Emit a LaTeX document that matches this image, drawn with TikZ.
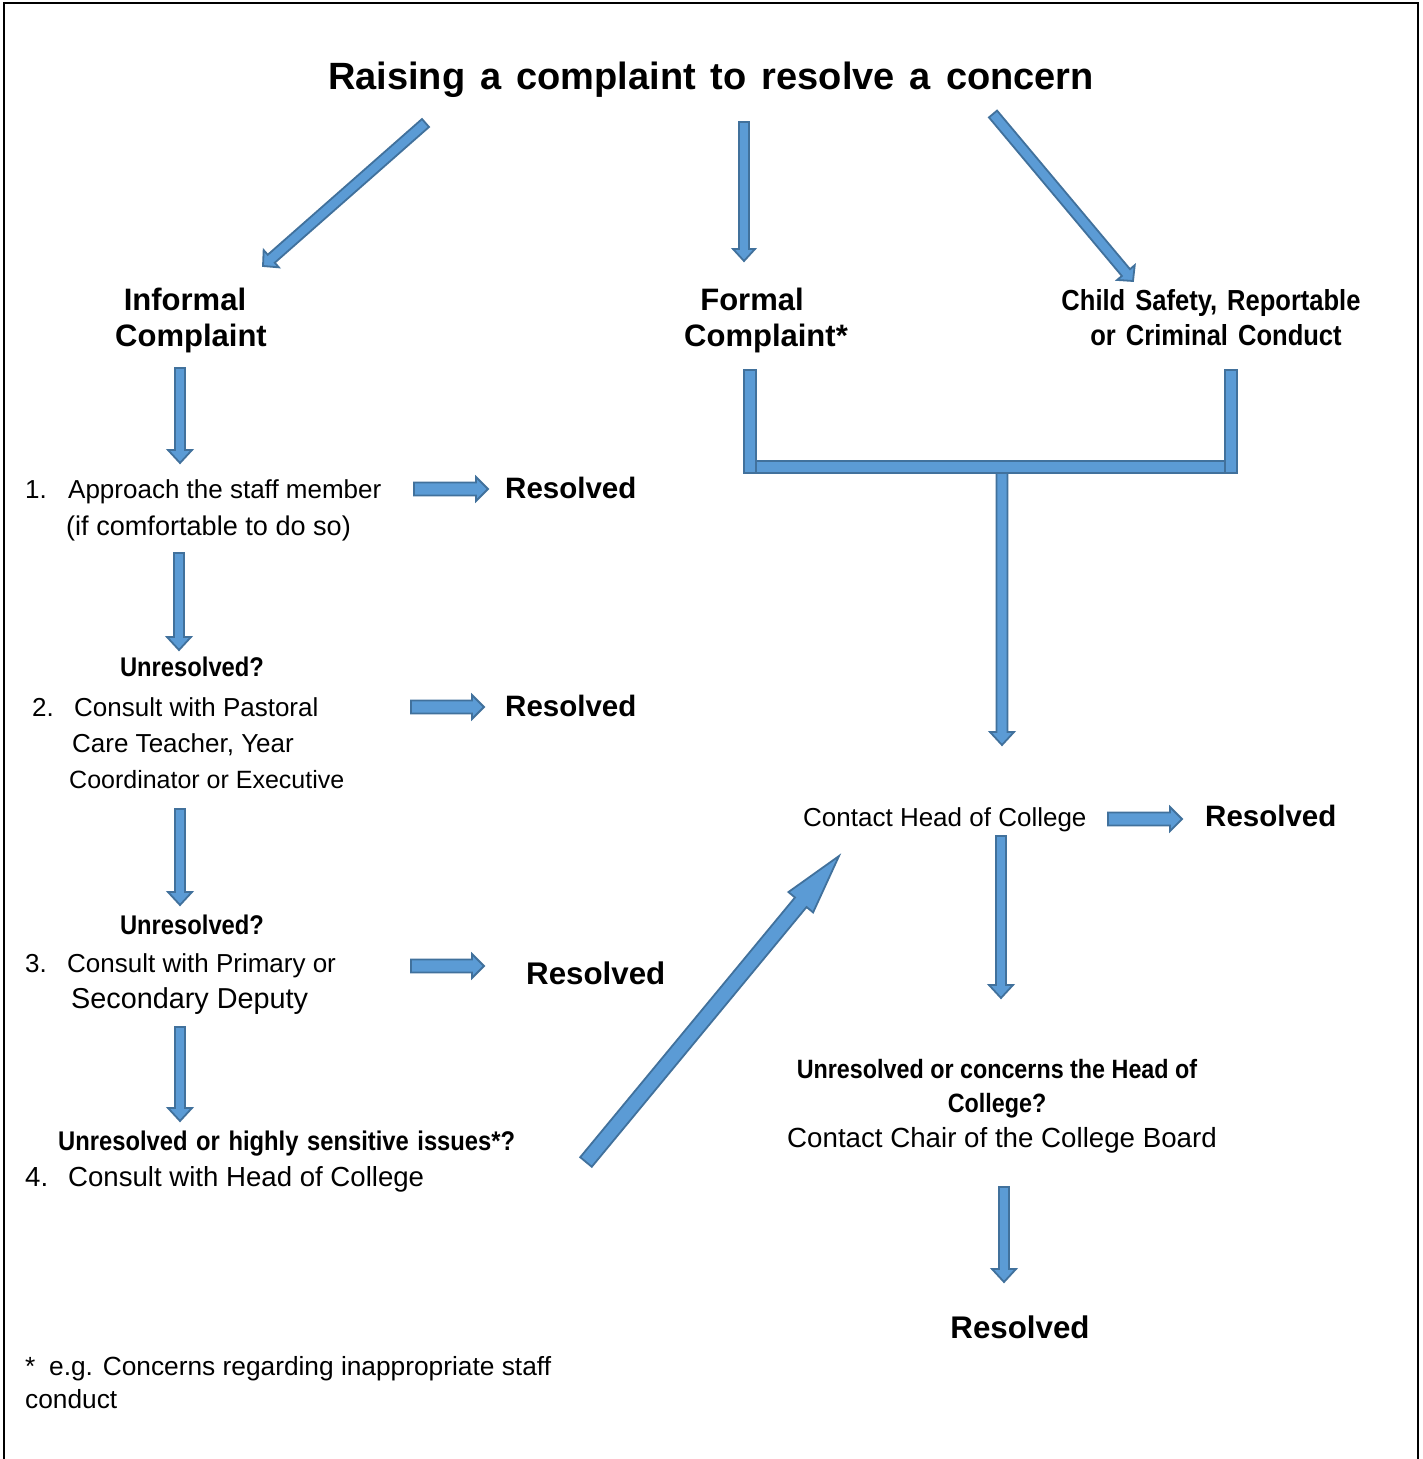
\documentclass[tikz,border=0pt]{standalone}
\usepackage{fontspec}
\setmainfont{Liberation Sans}
\newfontfamily\narrowfont[FakeStretch=0.88]{Liberation Sans}
\newfontfamily\titlefont[WordSpace=1.42]{Liberation Sans}
\usetikzlibrary{calc}
\definecolor{arrowfill}{RGB}{91,155,213}
\definecolor{arrowline}{RGB}{65,113,156}
\newcommand\blockarrow[5]{% from, to, half shaft, half head, head length
  \coordinate (bahd) at ($(#2)!#5!(#1)$);
  \draw[blk] ($(#1)!#3!90:(#2)$) -- ($(bahd)!#3!90:(#2)$) -- ($(bahd)!#4!90:(#2)$) -- (#2)
    -- ($(bahd)!#4!-90:(#2)$) -- ($(bahd)!#3!-90:(#2)$) -- ($(#1)!#3!-90:(#2)$) -- cycle;
}
\begin{document}
\begin{tikzpicture}[x=1pt,y=-1pt,
  blk/.style={fill=arrowfill,draw=arrowline,line width=1.8pt,line join=miter},
  reg/.style={inner sep=0pt,font=\fontsize{26}{31}\selectfont},
  bigb/.style={inner sep=0pt,font=\fontsize{31}{36}\selectfont\bfseries},
  resb/.style={inner sep=0pt,font=\fontsize{29.5}{35}\selectfont\bfseries},
  resbb/.style={inner sep=0pt,font=\fontsize{31.3}{36}\selectfont\bfseries},
  nar/.style={inner sep=0pt,font=\fontsize{27}{32}\narrowfont\bfseries},
  narbig/.style={inner sep=0pt,font=\fontsize{29}{34}\narrowfont\bfseries}]
\useasboundingbox (0,0) rectangle (1423,1459);
\fill[white] (0,0) rectangle (1423,1459);
% border
\draw[black,line width=2.2pt] (4,1470) -- (4,3) -- (1418,3) -- (1418,1470);

% title
\node[inner sep=0pt,anchor=base,font=\fontsize{38}{44}\titlefont\bfseries] (title) at (711,89) {Raising a complaint to resolve a concern};

% headings
\node[bigb,anchor=base] (inf1) at (185,310) {Informal};
\node[bigb,anchor=base] (inf2) at (191,346) {Complaint};
\node[bigb,anchor=base] (for1) at (752,310) {Formal};
\node[bigb,anchor=base] (for2) at (766,346) {Complaint*};
\node[narbig,anchor=base] (cs1) at (1211,310) {Child\hspace{3pt} Safety,\hspace{3pt} Reportable};
\node[narbig,anchor=base] (cs2) at (1216,345) {or\hspace{3pt} Criminal\hspace{3pt} Conduct};

% left column
\node[reg,anchor=base west] (s1a) at (25,498) {\makebox[43pt][l]{1.}Approach the staff member};
\node[reg,anchor=base west,font=\fontsize{27.1}{32}\selectfont] (s1b) at (66,535) {(if comfortable to do so)};
\node[nar,anchor=base] (u1) at (192,676) {Unresolved?};
\node[reg,anchor=base west] (s2a) at (32,716) {\makebox[42pt][l]{2.}Consult with Pastoral};
\node[reg,anchor=base west] (s2b) at (72,752) {Care Teacher, Year};
\node[reg,anchor=base west,font=\fontsize{25}{30}\selectfont] (s2c) at (69,788) {Coordinator or Executive};
\node[nar,anchor=base] (u2) at (192,934) {Unresolved?};
\node[reg,anchor=base west] (s3a) at (25,972) {\makebox[42pt][l]{3.}Consult with Primary or};
\node[reg,anchor=base west,font=\fontsize{28.8}{34}\selectfont] (s3b) at (71,1008) {Secondary Deputy};
\node[nar,anchor=base west] (u3) at (58,1150) {Unresolved\hspace{2pt} or\hspace{2pt} highly\hspace{2pt} sensitive\hspace{2pt} issues*?};
\node[reg,anchor=base west,font=\fontsize{27.6}{33}\selectfont] (s4) at (25,1186) {\makebox[43pt][l]{4.}Consult with Head of College};

% resolved
\node[resb,anchor=base west] (r1) at (505,498) {Resolved};
\node[resb,anchor=base west] (r2) at (505,716) {Resolved};
\node[resbb,anchor=base west] (r3) at (526,984) {Resolved};
\node[resb,anchor=base west] (r4) at (1205,826) {Resolved};
\node[resbb,anchor=base] (r5) at (1020,1338) {Resolved};

% right column
\node[reg,anchor=base west] (head) at (803,826) {Contact Head of College};
\node[nar,anchor=base,font=\fontsize{26.5}{32}\narrowfont\bfseries] (u4a) at (997,1078) {Unresolved or concerns the Head of};
\node[nar,anchor=base,font=\fontsize{26.5}{32}\narrowfont\bfseries] (u4b) at (997,1112) {College?};
\node[reg,anchor=base,font=\fontsize{27.7}{33}\selectfont] (chair) at (1002,1147) {Contact Chair of the College Board};

% footnote
\node[reg,anchor=base west,font=\fontsize{26.3}{31}\selectfont] (fn1) at (25,1375) {\makebox[24pt][l]{*}e.g. Concerns regarding inappropriate staff};
\node[reg,anchor=base west,font=\fontsize{26.3}{31}\selectfont] (fn2) at (25,1408) {conduct};

% arrow coordinates
\coordinate (d1s) at (425.5,123); \coordinate (d1e) at (263,266);
\coordinate (m1s) at (744,122);   \coordinate (m1e) at (744,261);
\coordinate (d2s) at (993,114);   \coordinate (d2e) at (1133,281);
\coordinate (v1s) at (180,368);   \coordinate (v1e) at (180,463);
\coordinate (v2s) at (179,553);   \coordinate (v2e) at (179,650);
\coordinate (v3s) at (180,809);   \coordinate (v3e) at (180,905);
\coordinate (v4s) at (180,1027);  \coordinate (v4e) at (180,1121);
\coordinate (h1s) at (414,489);   \coordinate (h1e) at (488,489);
\coordinate (h2s) at (411,707);   \coordinate (h2e) at (484,707);
\coordinate (h3s) at (411,966);   \coordinate (h3e) at (484,966);
\coordinate (h4s) at (1108,819);  \coordinate (h4e) at (1182,819);
\coordinate (bgs) at (586,1162);  \coordinate (bge) at (839,856);
\coordinate (tst) at (1002,473);  \coordinate (tse) at (1002,745);
\coordinate (v5s) at (1001,836);  \coordinate (v5e) at (1001,998);
\coordinate (v6s) at (1004,1187); \coordinate (v6e) at (1004,1282);

% T bracket
\draw[blk] (744,461) rectangle (1237,473);
\draw[blk] (744,370) rectangle (756,473);
\draw[blk] (1225,370) rectangle (1237,473);

% arrows
\blockarrow{d1s}{d1e}{5.3pt}{11.5pt}{11pt}
\blockarrow{m1s}{m1e}{5pt}{11pt}{12pt}
\blockarrow{d2s}{d2e}{5.3pt}{11.5pt}{11pt}
\blockarrow{v1s}{v1e}{5pt}{12pt}{13pt}
\blockarrow{v2s}{v2e}{5pt}{12pt}{13pt}
\blockarrow{v3s}{v3e}{5pt}{12pt}{13pt}
\blockarrow{v4s}{v4e}{5pt}{12pt}{13pt}
\blockarrow{h1s}{h1e}{6.5pt}{12pt}{12pt}
\blockarrow{h2s}{h2e}{6.5pt}{12pt}{12pt}
\blockarrow{h3s}{h3e}{6.5pt}{12pt}{12pt}
\blockarrow{h4s}{h4e}{6.5pt}{12pt}{12pt}
\blockarrow{bgs}{bge}{7.5pt}{16pt}{60pt}
\blockarrow{tst}{tse}{5.5pt}{12pt}{13pt}
\blockarrow{v5s}{v5e}{5pt}{12pt}{13pt}
\blockarrow{v6s}{v6e}{5pt}{12pt}{13pt}
\end{tikzpicture}
\end{document}
